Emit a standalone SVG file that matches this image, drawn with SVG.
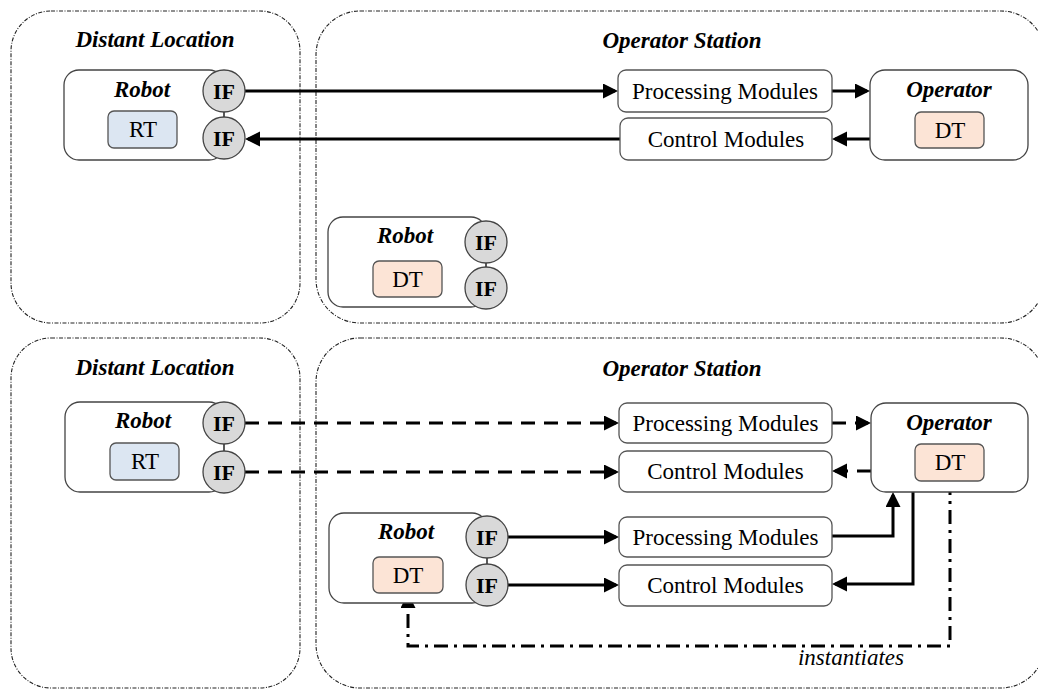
<svg xmlns="http://www.w3.org/2000/svg" width="1038" height="689" viewBox="0 0 1038 689">
<style>
.cont{fill:none;stroke:#222;stroke-width:1.1;stroke-dasharray:4 1.5 1 1.5}
.big{fill:#fff;stroke:#444;stroke-width:1.3}
.mod{fill:#fff;stroke:#555;stroke-width:1.3}
.rt{fill:#dce6f2;stroke:#555;stroke-width:1.3}
.dt{fill:#fce4d6;stroke:#555;stroke-width:1.3}
.ifc{fill:#d9d9d9;stroke:#444;stroke-width:1.3}
.t{font-family:"Liberation Serif","Times New Roman",serif;font-size:23px;fill:#000;text-anchor:middle}
.bi{font-weight:bold;font-style:italic}
.b{font-weight:bold;font-size:22px}
.it{font-style:italic}
.c{fill:none;stroke:#000;stroke-width:3}
.dash{stroke-dasharray:14 9}
.dd{stroke-dasharray:14 6 3 6}
</style>
<defs>
<marker id="ah" markerUnits="userSpaceOnUse" markerWidth="16" markerHeight="16" refX="12" refY="7.5" orient="auto">
<path d="M0,0 L15,7.5 L0,15 Z" fill="#000"/>
</marker>
</defs>

<g id="containers">
<rect class="cont" x="11" y="11" width="289" height="312" rx="40"/>
<rect class="cont" x="316" y="11" width="729" height="312" rx="44"/>
<rect class="cont" x="11" y="338" width="289" height="350" rx="40"/>
<rect class="cont" x="316" y="338" width="729" height="350" rx="44"/>
<text class="t bi" x="155" y="47">Distant Location</text>
<text class="t bi" x="682" y="48">Operator Station</text>
<text class="t bi" x="155" y="375">Distant Location</text>
<text class="t bi" x="682" y="376">Operator Station</text>
</g>

<g id="connectors">
<line class="c" x1="245" y1="91" x2="615" y2="91" marker-end="url(#ah)"/>
<line class="c" x1="620" y1="139" x2="248" y2="139" marker-end="url(#ah)"/>
<line class="c" x1="832" y1="91" x2="867" y2="91" marker-end="url(#ah)"/>
<line class="c" x1="870" y1="139" x2="835" y2="139" marker-end="url(#ah)"/>
<line class="c dash" x1="245" y1="423" x2="616" y2="423" marker-end="url(#ah)"/>
<line class="c dash" x1="245" y1="472" x2="616" y2="472" marker-end="url(#ah)"/>
<line class="c dash" x1="832" y1="423" x2="868" y2="423" marker-end="url(#ah)"/>
<line class="c dash" x1="871" y1="471" x2="835" y2="471" marker-end="url(#ah)"/>
<line class="c" x1="507" y1="537" x2="616" y2="537" marker-end="url(#ah)"/>
<line class="c" x1="507" y1="585" x2="616" y2="585" marker-end="url(#ah)"/>
<path class="c" d="M832,536 H893 V495" marker-end="url(#ah)"/>
<path class="c" d="M913,492 V584 H835" marker-end="url(#ah)"/>
<path class="c dd" d="M950,481 V646 H408 V596" marker-end="url(#ah)"/>
<text class="t it" x="851" y="665">instantiates</text>
</g>

<g id="robot-top">
<rect class="big" x="64" y="70" width="160" height="90" rx="15"/>
<line x1="224" y1="100" x2="224" y2="130" stroke="#444" stroke-width="1.3"/>
<text class="t bi" x="142" y="97">Robot</text>
<rect class="rt" x="108" y="111" width="69" height="37" rx="6"/>
<text class="t" x="143" y="137">RT</text>
<circle class="ifc" cx="224" cy="91" r="21"/>
<text class="t b" x="224" y="99">IF</text>
<circle class="ifc" cx="224" cy="138" r="21"/>
<text class="t b" x="224" y="146">IF</text>
</g>

<g id="proc-top">
<rect class="mod" x="618" y="70" width="214" height="42" rx="8"/>
<text class="t" x="725" y="99">Processing Modules</text>
</g>
<g id="ctrl-top">
<rect class="mod" x="620" y="118" width="212" height="42" rx="8"/>
<text class="t" x="726" y="147">Control Modules</text>
</g>
<g id="operator-top">
<rect class="big" x="870" y="70" width="158" height="90" rx="15"/>
<text class="t bi" x="949" y="97">Operator</text>
<rect class="dt" x="915" y="112" width="69" height="36" rx="6"/>
<text class="t" x="950" y="138">DT</text>
</g>

<g id="robot-dt-top">
<rect class="big" x="328" y="217" width="158" height="90" rx="15"/>
<line x1="486" y1="250" x2="486" y2="280" stroke="#444" stroke-width="1.3"/>
<text class="t bi" x="405" y="243">Robot</text>
<rect class="dt" x="373" y="261" width="69" height="36" rx="6"/>
<text class="t" x="407.5" y="287">DT</text>
<circle class="ifc" cx="486" cy="242" r="21"/>
<text class="t b" x="486" y="250">IF</text>
<circle class="ifc" cx="486" cy="288" r="21"/>
<text class="t b" x="486" y="296">IF</text>
</g>

<g id="robot-bottom">
<rect class="big" x="65" y="402" width="159" height="90" rx="15"/>
<line x1="224" y1="430" x2="224" y2="465" stroke="#444" stroke-width="1.3"/>
<text class="t bi" x="143" y="428">Robot</text>
<rect class="rt" x="110" y="443" width="69" height="37" rx="6"/>
<text class="t" x="145" y="469">RT</text>
<circle class="ifc" cx="224" cy="423" r="21"/>
<text class="t b" x="224" y="431">IF</text>
<circle class="ifc" cx="224" cy="472" r="21"/>
<text class="t b" x="224" y="480">IF</text>
</g>

<g id="proc-bottom-1">
<rect class="mod" x="619" y="403" width="213" height="40" rx="8"/>
<text class="t" x="725.5" y="431">Processing Modules</text>
</g>
<g id="ctrl-bottom-1">
<rect class="mod" x="619" y="451" width="213" height="41" rx="8"/>
<text class="t" x="725.5" y="479">Control Modules</text>
</g>
<g id="operator-bottom">
<rect class="big" x="871" y="403" width="157" height="89" rx="15"/>
<text class="t bi" x="949" y="430">Operator</text>
<rect class="dt" x="915" y="444" width="69" height="37" rx="6"/>
<text class="t" x="950" y="470">DT</text>
</g>

<g id="robot-dt-bottom">
<rect class="big" x="329" y="513" width="158" height="90" rx="15"/>
<line x1="487" y1="545" x2="487" y2="577" stroke="#444" stroke-width="1.3"/>
<text class="t bi" x="406" y="539">Robot</text>
<rect class="dt" x="373" y="557" width="70" height="36" rx="6"/>
<text class="t" x="408" y="583">DT</text>
<circle class="ifc" cx="487" cy="537" r="21"/>
<text class="t b" x="487" y="545">IF</text>
<circle class="ifc" cx="487" cy="585" r="21"/>
<text class="t b" x="487" y="593">IF</text>
</g>

<g id="proc-bottom-2">
<rect class="mod" x="619" y="517" width="213" height="40" rx="8"/>
<text class="t" x="725.5" y="545">Processing Modules</text>
</g>
<g id="ctrl-bottom-2">
<rect class="mod" x="619" y="565" width="213" height="41" rx="8"/>
<text class="t" x="725.5" y="593">Control Modules</text>
</g>
</svg>
